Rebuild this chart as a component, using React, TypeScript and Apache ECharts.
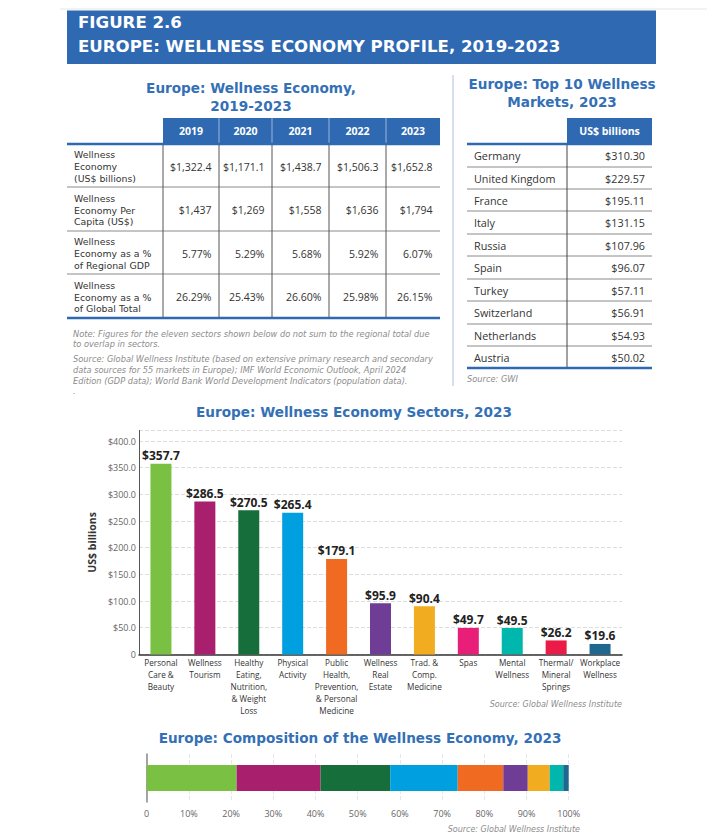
import React, { useEffect, useRef } from "react";
import * as echarts from "echarts";

const years = ["2019", "2020", "2021", "2022", "2023"];
const wellnessEconomy = [1322.4, 1171.1, 1438.7, 1506.3, 1652.8];
const perCapita = [1437, 1269, 1558, 1636, 1794];
const pctRegionalGdp = [5.77, 5.29, 5.68, 5.92, 6.07];
const pctGlobalTotal = [26.29, 25.43, 26.6, 25.98, 26.15];
const rowLabels = [
  "Wellness\nEconomy\n(US$ billions)",
  "Wellness\nEconomy Per\nCapita (US$)",
  "Wellness\nEconomy as a %\nof Regional GDP",
  "Wellness\nEconomy as a %\nof Global Total",
];

const countries = ["Germany", "United Kingdom", "France", "Italy", "Russia", "Spain", "Turkey", "Switzerland", "Netherlands", "Austria"];
const countryValues = [310.3, 229.57, 195.11, 131.15, 107.96, 96.07, 57.11, 56.91, 54.93, 50.02];

const sectors = [
  "Personal\nCare &\nBeauty",
  "Wellness\nTourism",
  "Healthy\nEating,\nNutrition,\n& Weight\nLoss",
  "Physical\nActivity",
  "Public\nHealth,\nPrevention,\n& Personal\nMedicine",
  "Wellness\nReal\nEstate",
  "Trad. &\nComp.\nMedicine",
  "Spas",
  "Mental\nWellness",
  "Thermal/\nMineral\nSprings",
  "Workplace\nWellness",
];
const sectorValues = [357.7, 286.5, 270.5, 265.4, 179.1, 95.9, 90.4, 49.7, 49.5, 26.2, 19.6];
const sectorColors = ["#7AC143", "#A81F6E", "#166E3A", "#00A0E0", "#F06A22", "#6F3D96", "#F2AC1F", "#E91E79", "#00B7AE", "#EB1B48", "#1F6890"];
const sectorTicks = [0, 50, 100, 150, 200, 250, 300, 350, 400];

const compositionSectors = [
  "Personal Care & Beauty",
  "Wellness Tourism",
  "Healthy Eating, Nutrition, & Weight Loss",
  "Physical Activity",
  "Public Health, Prevention, & Personal Medicine",
  "Wellness Real Estate",
  "Trad. & Comp. Medicine",
  "Mental Wellness",
  "Workplace Wellness",
];
const compositionShares = [21.3, 19.9, 16.5, 16.0, 10.8, 5.8, 5.2, 3.2, 1.3];
const compositionColors = ["#7AC143", "#A81F6E", "#166E3A", "#00A0E0", "#F06A22", "#6F3D96", "#F2AC1F", "#00B7AE", "#1F6890"];
const percentTicks = [0, 10, 20, 30, 40, 50, 60, 70, 80, 90, 100];

const FONT = "'Open Sans', 'Noto Sans', sans-serif";
const NOTE_FONT = "'DejaVu Sans', 'Open Sans', sans-serif";
const BLUE = "#2F69B2";
const TITLE_BLUE = "#3470B6";

function fmtMoney(v: number, d: number) {
  return "$" + v.toLocaleString("en-US", { minimumFractionDigits: d, maximumFractionDigits: d });
}

function txt(x: number, y: number, text: string, o: any = {}) {
  return {
    type: "text",
    x,
    y,
    z: 10,
    style: {
      text,
      fill: o.fill || "#333",
      fontSize: o.size || 10,
      fontWeight: o.weight || "normal",
      fontStyle: o.style || "normal",
      fontFamily: o.family || FONT,
      lineHeight: o.lh || undefined,
      textAlign: o.align || "left",
      textVerticalAlign: o.valign || "middle",
    },
  };
}
function ln(x1: number, y1: number, x2: number, y2: number, stroke: string, lw: number) {
  return { type: "line", z: 9, shape: { x1, y1, x2, y2 }, style: { stroke, lineWidth: lw } };
}
function rc(x: number, y: number, w: number, h: number, fill: string) {
  return { type: "rect", z: 8, shape: { x, y, width: w, height: h }, style: { fill } };
}

function buildGraphics() {
  const g: any[] = [];
  const T = { fill: TITLE_BLUE, size: 13.6, weight: "bold", align: "center", family: NOTE_FONT, lh: 18 };
  // top banner
  g.push(ln(60, 9, 707, 9, "#E6E6E6", 1));
  g.push(rc(67, 10.5, 589, 53.5, BLUE));
  g.push(
    txt(78, 34.5, "FIGURE 2.6\nEUROPE: WELLNESS ECONOMY PROFILE, 2019-2023", {
      fill: "#fff", size: 16.6, weight: "bold", family: NOTE_FONT, lh: 23.5,
    })
  );

  // left table
  g.push(txt(251, 97, "Europe: Wellness Economy,\n2019-2023", T));
  const colX = [163, 219, 272, 329, 386, 440];
  const rowY = [144, 187, 231, 274, 318];
  g.push(rc(163, 118, 277, 26, BLUE));
  years.forEach((yr, i) => {
    g.push(txt((colX[i] + colX[i + 1]) / 2, 131, yr, { fill: "#fff", size: 10.5, weight: "bold", align: "center" }));
    if (i > 0) g.push(ln(colX[i], 118, colX[i], 144, "#9DB6DA", 1));
  });
  g.push(ln(67, 144, 440, 144, BLUE, 2.5));
  g.push(ln(67, 318, 440, 318, BLUE, 2.5));
  [187, 231, 274].forEach((y) => g.push(ln(67, y, 440, y, "#8A8A8A", 1)));
  colX.slice(0, 5).forEach((x) => g.push(ln(x, 145, x, 317, "#555", 1)));
  const valueRows = [
    wellnessEconomy.map((v) => fmtMoney(v, 1)),
    perCapita.map((v) => fmtMoney(v, 0)),
    pctRegionalGdp.map((v) => v.toFixed(2) + "%"),
    pctGlobalTotal.map((v) => v.toFixed(2) + "%"),
  ];
  rowLabels.forEach((label, r) => {
    const cy = (rowY[r] + rowY[r + 1]) / 2 + 1;
    g.push(txt(74, cy, label, { size: 9.4, lh: 11.8, family: NOTE_FONT }));
    valueRows[r].forEach((v, c) => g.push(txt(colX[c + 1] - 7.5, cy, v, { size: 10.5, align: "right" })));
  });
  const noteC = "#8C8C8C";
  g.push(
    txt(73, 329, "Note: Figures for the eleven sectors shown below do not sum to the regional total due\nto overlap in sectors.", {
      fill: noteC, size: 8.25, style: "italic", lh: 10.2, valign: "top", family: NOTE_FONT,
    })
  );
  g.push(
    txt(
      73,
      354,
      "Source: Global Wellness Institute (based on extensive primary research and secondary\ndata sources for 55 markets in Europe); IMF World Economic Outlook, April 2024\nEdition (GDP data); World Bank World Development Indicators (population data).\n.",
      { fill: noteC, size: 8.25, style: "italic", lh: 10.6, valign: "top", family: NOTE_FONT }
    )
  );

  // divider
  g.push(ln(453, 75, 453, 386, "#A9C1E2", 1));

  // right table
  g.push(txt(562, 93, "Europe: Top 10 Wellness\nMarkets, 2023", T));
  g.push(rc(567, 118, 85, 26, BLUE));
  g.push(txt(609.5, 131, "US$ billions", { fill: "#fff", size: 10.5, weight: "bold", align: "center" }));
  const rY = [144, 167, 189, 211, 234, 256, 279, 301, 324, 346, 368];
  g.push(ln(467, 144, 652, 144, BLUE, 2.5));
  g.push(ln(467, 368, 652, 368, BLUE, 2.5));
  for (let i = 1; i < 10; i++) {
    if (i === 4 || i === 9) g.push(ln(467, rY[i], 652, rY[i], "#C4C4C4", 2));
    else g.push(ln(467, rY[i], 652, rY[i], "#8A8A8A", 1));
  }
  g.push(ln(567, 145, 567, 367, "#444", 1));
  countries.forEach((c, i) => {
    const cy = (rY[i] + rY[i + 1]) / 2;
    g.push(txt(474, cy, c, { size: 10.8 }));
    g.push(txt(645, cy, fmtMoney(countryValues[i], 2), { size: 10.8, align: "right" }));
  });
  g.push(txt(467, 379, "Source: GWI", { fill: noteC, size: 8.25, style: "italic", family: NOTE_FONT }));

  // sector chart title + source
  g.push(txt(354, 412, "Europe: Wellness Economy Sectors, 2023", T));
  g.push(txt(622, 704, "Source: Global Wellness Institute", { fill: noteC, size: 8, style: "italic", align: "right", family: NOTE_FONT }));

  // composition title + source
  g.push(txt(360, 738, "Europe: Composition of the Wellness Economy, 2023", T));
  g.push(txt(580, 829, "Source: Global Wellness Institute", { fill: noteC, size: 8, style: "italic", align: "right", family: NOTE_FONT }));
  return g;
}

export default function App() {
  const ref = useRef<HTMLDivElement>(null);
  useEffect(() => {
    if (!ref.current) return;
    const chart = echarts.init(ref.current, null, { renderer: "svg" });
    const axisLabelStyle = { color: "#666", fontSize: 9, fontFamily: FONT };
    chart.setOption({
      animation: false,
      backgroundColor: "#fff",
      textStyle: { fontFamily: FONT },
      graphic: buildGraphics(),
      grid: [
        { left: 139, top: 430.4, width: 483, height: 224 },
        { left: 146.7, top: 754, width: 422, height: 48 },
      ],
      xAxis: [
        {
          type: "category",
          gridIndex: 0,
          data: sectors,
          axisLine: { lineStyle: { color: "#333", width: 1.5 } },
          axisTick: { show: false },
          axisLabel: { interval: 0, color: "#333", fontSize: 8.2, lineHeight: 12, margin: 2, fontFamily: FONT, verticalAlign: "top" },
        },
        {
          type: "value",
          gridIndex: 1,
          min: 0,
          max: 100,
          interval: 10,
          axisLine: { show: false },
          axisTick: { show: false },
          splitLine: { show: true, lineStyle: { color: "#E6E6E6", type: "dashed" } },
          axisLabel: {
            ...axisLabelStyle,
            fontSize: 9,
            margin: 7,
            formatter: (v: number) => (percentTicks.includes(v) ? (v === 0 ? "0" : v + "%") : ""),
          },
        },
      ],
      yAxis: [
        {
          type: "value",
          gridIndex: 0,
          min: 0,
          max: 420,
          interval: 50,
          name: "US$ billions",
          nameLocation: "middle",
          nameGap: 31,
          nameRotate: 90,
          nameTextStyle: { color: "#333", fontSize: 10.5, fontWeight: "bold", fontFamily: FONT },
          axisLine: { show: true, lineStyle: { color: "#555", width: 1 } },
          axisTick: { show: false },
          splitLine: { show: true, lineStyle: { color: "#DDDDDD", type: "dashed" } },
          axisLabel: {
            ...axisLabelStyle,
            margin: 3,
            showMaxLabel: false,
            formatter: (v: number) => (sectorTicks.includes(v) ? (v === 0 ? "0" : "$" + v.toFixed(1)) : ""),
          },
        },
        {
          type: "category",
          gridIndex: 1,
          data: ["2023"],
          axisLine: { show: true, lineStyle: { color: "#888", width: 1.5 } },
          axisTick: { show: false },
          axisLabel: { show: false },
        },
      ],
      series: [
        {
          type: "bar",
          xAxisIndex: 0,
          yAxisIndex: 0,
          barWidth: 21,
          data: sectorValues.map((v, i) => ({ value: v, itemStyle: { color: sectorColors[i] } })),
          label: {
            show: true,
            position: "top",
            distance: 2,
            color: "#222",
            fontSize: 12,
            fontWeight: "bold",
            fontFamily: FONT,
            formatter: (p: any) => "$" + Number(p.value).toFixed(1),
          },
        },
        ...compositionSectors.map((name, i) => ({
          type: "bar",
          name,
          xAxisIndex: 1,
          yAxisIndex: 1,
          stack: "comp",
          barWidth: 26,
          itemStyle: { color: compositionColors[i] },
          data: [compositionShares[i]],
        })),
      ],
    });
    return () => chart.dispose();
  }, []);
  return <div ref={ref} style={{ position: "absolute", left: 0, top: 0, width: 707, height: 840 }} />;
}
